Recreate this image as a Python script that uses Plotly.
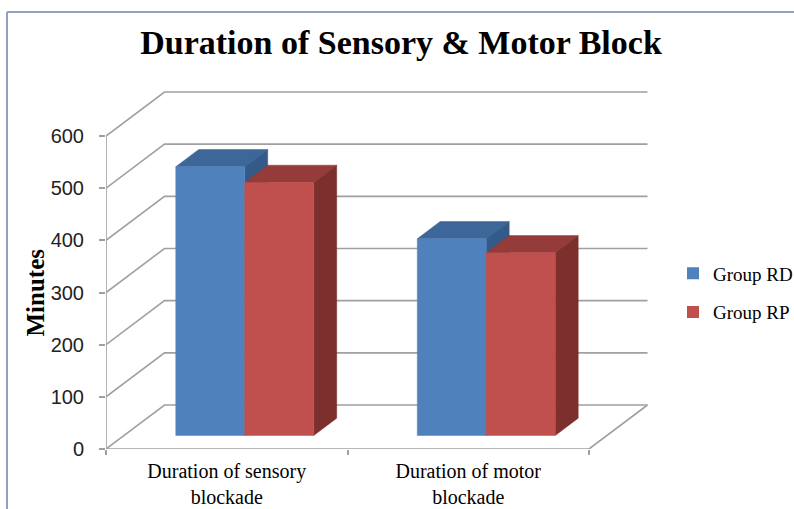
import plotly.graph_objects as go

# ---------------- data ----------------
categories = ["Duration of sensory<br>blockade", "Duration of motor<br>blockade"]
series_names = ["Group RD", "Group RP"]
group_rd = [515, 377]
group_rp = [485, 350]
y_ticks = [0, 100, 200, 300, 400, 500, 600]
title_text = "Duration of Sensory & Motor Block"
y_title = "Minutes"

# ---------------- geometry / style ----------------
FIG_W, FIG_H = 794, 509
L, T, W, H = 106, 80, 554, 369          # plot area in pixels
PX_PER_UNIT = 313 / 600                 # vertical pixels per minute
Y_MAX = H / PX_PER_UNIT
CAT_W = 241.5                           # x units (= px) per category
DEPTH_DX = 58.5                         # oblique depth, x units
DEPTH_DY = 44 / PX_PER_UNIT             # oblique depth, y units
BAR_W = 69
F0, F1 = 0.308, 0.70                    # bar depth span (fraction of floor depth)

front_cols = ["#4F81BD", "#C0504D"]
top_cols = ["#3D6799", "#953B39"]
side_cols = ["#335A89", "#7D2F2E"]
grid_col = "#A0A0A0"

series_vals = [group_rd, group_rp]
n_cat = len(categories)
floor_w = n_cat * CAT_W

fig = go.Figure()

# ---- walls / floor grid lines ----
gx, gy = [], []
top_tick = max(y_ticks)
for v in y_ticks:
    gx += [0, DEPTH_DX, DEPTH_DX + floor_w, None]
    gy += [v, v + DEPTH_DY, v + DEPTH_DY, None]
# front floor edge, right floor edge, front vertical axis
gx += [0, floor_w, floor_w + DEPTH_DX, None, 0, 0, None]
gy += [0, 0, DEPTH_DY, None, 0, top_tick, None]
fig.add_trace(go.Scatter(x=gx, y=gy, mode="lines",
                         line=dict(color=grid_col, width=1.6),
                         hoverinfo="skip", showlegend=False, cliponaxis=False))

# ---- 3D bars ----
ddx = (F1 - F0) * DEPTH_DX
ddy = (F1 - F0) * DEPTH_DY
b0 = F0 * DEPTH_DY
for i in range(n_cat):
    for j, vals in enumerate(series_vals):
        v = vals[i]
        xl = i * CAT_W + CAT_W / 2 - BAR_W * len(series_vals) / 2 + j * BAR_W + F0 * DEPTH_DX
        xr = xl + BAR_W
        faces = [
            (top_cols[j], [xl, xr, xr + ddx, xl + ddx, xl],
             [b0 + v, b0 + v, b0 + v + ddy, b0 + v + ddy, b0 + v]),
            (side_cols[j], [xr, xr + ddx, xr + ddx, xr, xr],
             [b0, b0 + ddy, b0 + v + ddy, b0 + v, b0]),
            (front_cols[j], [xl, xr, xr, xl, xl],
             [b0, b0, b0 + v, b0 + v, b0]),
        ]
        for col, fx, fy in faces:
            fig.add_trace(go.Scatter(x=fx, y=fy, mode="lines", fill="toself",
                                     fillcolor=col, line=dict(color=col, width=0.5),
                                     hoverinfo="skip", showlegend=False))

# ---- legend entries ----
for j, name in enumerate(series_names):
    fig.add_trace(go.Bar(x=[None], y=[None], name=name,
                         marker=dict(color=front_cols[j], line=dict(width=0)),
                         legendgroup=name))

fig.update_layout(
    width=FIG_W, height=FIG_H,
    margin=dict(l=L, r=FIG_W - L - W, t=T, b=FIG_H - T - H, autoexpand=False),
    paper_bgcolor="white", plot_bgcolor="white",
    title=dict(text="<b>" + title_text + "</b>", xref="container", x=401 / FIG_W,
               xanchor="center", yref="container", y=1 - 42 / FIG_H, yanchor="middle",
               font=dict(family="Liberation Serif", size=34, color="#000")),
    xaxis=dict(range=[0, W], tickmode="array",
               tickvals=[(k + 0.5) * CAT_W for k in range(n_cat)],
               ticktext=categories, ticks="", showgrid=False, zeroline=False,
               showline=False, ticklabelstandoff=8, automargin=False,
               tickfont=dict(family="Liberation Serif", size=20, color="#000"),
               minor=dict(ticks="outside", tick0=0, dtick=CAT_W, ticklen=5,
                          tickcolor=grid_col, tickwidth=1.5, showgrid=False)),
    yaxis=dict(range=[0, Y_MAX], tickmode="array", tickvals=y_ticks,
               ticks="outside", ticklen=6, tickcolor=grid_col, tickwidth=1.5,
               showgrid=False, zeroline=False, showline=False, automargin=False,
               ticklabelstandoff=11,
               tickfont=dict(family="Liberation Sans", size=20, color="#222")),
    legend=dict(x=(673 - L) / W, xanchor="left", y=(T + H - 293) / H, yanchor="middle",
                font=dict(family="Liberation Serif", size=19, color="#000"),
                traceorder="grouped", tracegroupgap=11, bgcolor="rgba(0,0,0,0)"),
    showlegend=True,
    annotations=[dict(text="<b>" + y_title + "</b>", xref="paper", x=(35 - L) / W,
                      yref="y", y=300, textangle=-90, showarrow=False,
                      xanchor="center", yanchor="middle",
                      font=dict(family="Liberation Serif", size=25, color="#000"))],
    shapes=[
        dict(type="line", xref="paper", yref="paper",
             x0=(7 - L) / W, x1=(7 - L) / W, y0=(T + H - 520) / H, y1=(T + H - 12) / H,
             line=dict(color="#8EA2C0", width=2)),
        dict(type="line", xref="paper", yref="paper",
             x0=(7 - L) / W, x1=(820 - L) / W, y0=(T + H - 12) / H, y1=(T + H - 12) / H,
             line=dict(color="#8EA2C0", width=2)),
    ],
)

fig.write_html("out.html", config={"displayModeBar": False},
               post_script="document.body.style.margin='0';")
